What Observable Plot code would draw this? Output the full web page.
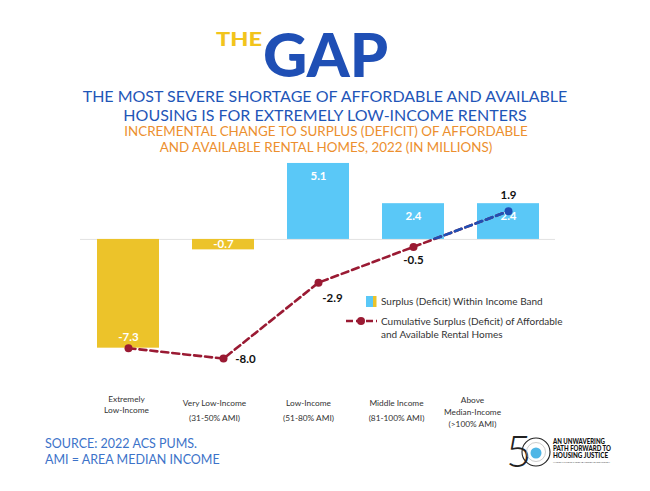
<!DOCTYPE html>
<html><head><meta charset="utf-8">
<script src="https://cdn.jsdelivr.net/npm/d3@7"></script>
<script src="https://cdn.jsdelivr.net/npm/@observablehq/plot@0.6"></script>
<style>
body{margin:0;background:#fff;}
#wrap{position:relative;width:650px;height:491px;overflow:hidden;font-family:Lato,"Open Sans",sans-serif;}
.abs{position:absolute;}
#head{left:0;top:0;overflow:visible;}
#title{left:0;width:650px;top:86px;text-align:center;font-size:16px;line-height:19px;color:#1f56b8;}
#sub{left:0;width:652px;top:123px;text-align:center;font-size:13.4px;line-height:16px;color:#ec8f2e;}
#src{left:45px;top:436px;font-size:12.5px;line-height:16px;color:#3d73c9;}
#chart{left:0;top:155px;}
#logo{left:490px;top:425px;}
</style></head>
<body><div id="wrap">
<svg id="head" class="abs" width="650" height="84">
  <text x="216" y="46" font-family="Lato" font-weight="900" font-size="18" fill="#f2c41c" textLength="46" lengthAdjust="spacingAndGlyphs">THE</text>
  <text x="263" y="77" font-family="Lato" font-weight="900" font-size="61" fill="#1f4fb5" textLength="125" lengthAdjust="spacingAndGlyphs">GAP</text>
</svg>
<div id="title" class="abs">THE MOST SEVERE SHORTAGE OF AFFORDABLE AND AVAILABLE<br>HOUSING IS FOR EXTREMELY LOW-INCOME RENTERS</div>
<div id="sub" class="abs">INCREMENTAL CHANGE TO SURPLUS (DEFICIT) OF AFFORDABLE<br>AND AVAILABLE RENTAL HOMES, 2022 (IN MILLIONS)</div>
<div id="chart" class="abs"></div>
<div id="src" class="abs">SOURCE: 2022 ACS PUMS.<br>AMI = AREA MEDIAN INCOME</div>
<svg id="logo" class="abs" width="150" height="60">
  <text x="16" y="42" font-family="Lato" font-weight="300" font-size="44" fill="#222">5</text>
  <circle cx="46" cy="27" r="14" fill="none" stroke="#222" stroke-width="1.1"/>
  <circle cx="46" cy="27" r="9.5" fill="none" stroke="#aaa" stroke-width="0.6"/>
  <circle cx="46" cy="28" r="5.5" fill="#4fb6e6"/>
  <g font-family="Lato" font-weight="900" font-size="6.6" fill="#111">
    <text x="63" y="19" textLength="52" lengthAdjust="spacingAndGlyphs">AN UNWAVERING</text>
    <text x="63" y="26" textLength="58" lengthAdjust="spacingAndGlyphs">PATH FORWARD TO</text>
    <text x="63" y="33" textLength="55" lengthAdjust="spacingAndGlyphs">HOUSING JUSTICE</text>
  </g>
  <text x="63" y="37.5" font-family="Lato" font-size="2.6" fill="#333" textLength="57">NATIONAL LOW INCOME HOUSING COALITION</text>
</svg>
</div>
<script>
const categories = ["Extremely Low-Income", "Very Low-Income", "Low-Income", "Middle Income", "Above Median-Income"];
const tickLabels = ["Extremely\nLow-Income", "Very Low-Income\n(31-50% AMI)", "Low-Income\n(51-80% AMI)", "Middle Income\n(81-100% AMI)", "Above\nMedian-Income\n(>100% AMI)"];
const bandValues = [-7.3, -0.7, 5.1, 2.4, 2.4];
const cumulativeValues = [-7.3, -8.0, -2.9, -0.5, 1.9];

const BLUE_BAR = "#5ac8f7", YELLOW_BAR = "#ecc32a", RED = "#9a1a33", BLUE_LINE = "#1f4fb5";
const data = categories.map((c, i) => ({c, v: bandValues[i], cum: cumulativeValues[i], i}));

// per-label styling (offsets only)
const tickStyle = [
  {dx: -2, lh: 1.3}, {dx: -9, lh: 1.9}, {dx: -10, lh: 1.9}, {dx: -17, lh: 1.9}, {dx: -36, lh: 1.45}
];
const cumLabelStyle = [null, {dx: 22, dy: 1}, {dx: 14, dy: 16}, {dx: 0, dy: 13}, {dx: 0, dy: -16}];

const font = "Lato, 'Open Sans', sans-serif";
const marks = [
  Plot.ruleY([0], {stroke: "#e2e2e2", strokeWidth: 1}),
  Plot.barY(data.filter(d => d.v >= 0), {x: "c", y: "v", fill: BLUE_BAR}),
  Plot.barY(data.filter(d => d.v < 0), {x: "c", y: "v", fill: YELLOW_BAR}),
  Plot.text(data, {x: "c", y: d => d.v >= 0 ? d.v - 0.85 : Math.min(d.v + 0.72, d.v / 2), text: d => d.v.toFixed(1),
    fill: "white", fontSize: 11.5, fontWeight: 700}),
  Plot.line(data, {x: "c", y: "cum", stroke: RED, strokeWidth: 2.6, strokeDasharray: "7,4"}),
  Plot.line(data, {x: "c", y: "cum", stroke: BLUE_LINE, strokeWidth: 2.6, strokeDasharray: "7,4"}),
  Plot.dot(data.filter(d => d.cum < 0), {x: "c", y: "cum", fill: RED, r: 4}),
  Plot.dot(data.filter(d => d.cum >= 0), {x: "c", y: "cum", fill: BLUE_LINE, r: 4}),
];
data.forEach((d, i) => {
  const s = cumLabelStyle[i];
  if (s) marks.push(Plot.text([d], {x: "c", y: "cum", text: d => d.cum.toFixed(1), dx: s.dx, dy: s.dy,
    fill: "#111", fontSize: 11.5, fontWeight: 700}));
  const t = tickStyle[i];
  marks.push(Plot.text([d], {x: "c", frameAnchor: "bottom", text: () => tickLabels[i], dx: t.dx, dy: 21,
    lineAnchor: "top", lineHeight: t.lh, fontSize: 8.3, fill: "#333"}));
});

const plot = Plot.plot({
  width: 650, height: 275,
  marginLeft: 80, marginRight: 95, marginTop: 2, marginBottom: 57,
  style: {fontFamily: font, background: "transparent", overflow: "visible"},
  x: {domain: categories, paddingInner: 0.35, paddingOuter: 0.175, axis: null},
  y: {domain: [-9, 5.5], axis: null},
  marks
});

// clip blue line to the region above zero
const ns = "http://www.w3.org/2000/svg";
const y0 = plot.scale("y").apply(0);
const defs = document.createElementNS(ns, "defs");
const cp = document.createElementNS(ns, "clipPath"); cp.setAttribute("id", "aboveZero");
const cr = document.createElementNS(ns, "rect");
cr.setAttribute("x", 0); cr.setAttribute("y", -50); cr.setAttribute("width", 650); cr.setAttribute("height", y0 + 50);
cp.appendChild(cr); defs.appendChild(cp); plot.insertBefore(defs, plot.firstChild);
plot.querySelectorAll("g[stroke]").forEach(g => {
  if (g.getAttribute("stroke") === BLUE_LINE) g.setAttribute("clip-path", "url(#aboveZero)");
});

// legend inside the chart
const L = document.createElementNS(ns, "g");
L.setAttribute("font-family", font);
L.setAttribute("text-anchor", "start");
L.innerHTML = `
  <rect x="366" y="141" width="7" height="11" fill="${BLUE_BAR}"/>
  <rect x="373" y="141" width="3.5" height="11" fill="${YELLOW_BAR}"/>
  <text x="381" y="150" font-size="10" fill="#333">Surplus (Deficit) Within Income Band</text>
  <line x1="346" y1="166" x2="377" y2="166" stroke="${RED}" stroke-width="2.6" stroke-dasharray="7,3"/>
  <circle cx="361" cy="166" r="4" fill="${RED}"/>
  <text x="381" y="170" font-size="10" fill="#333">Cumulative Surplus (Deficit) of Affordable</text>
  <text x="381" y="182.5" font-size="10" fill="#333">and Available Rental Homes</text>`;
plot.appendChild(L);
document.getElementById("chart").appendChild(plot);
</script>
</body></html>
